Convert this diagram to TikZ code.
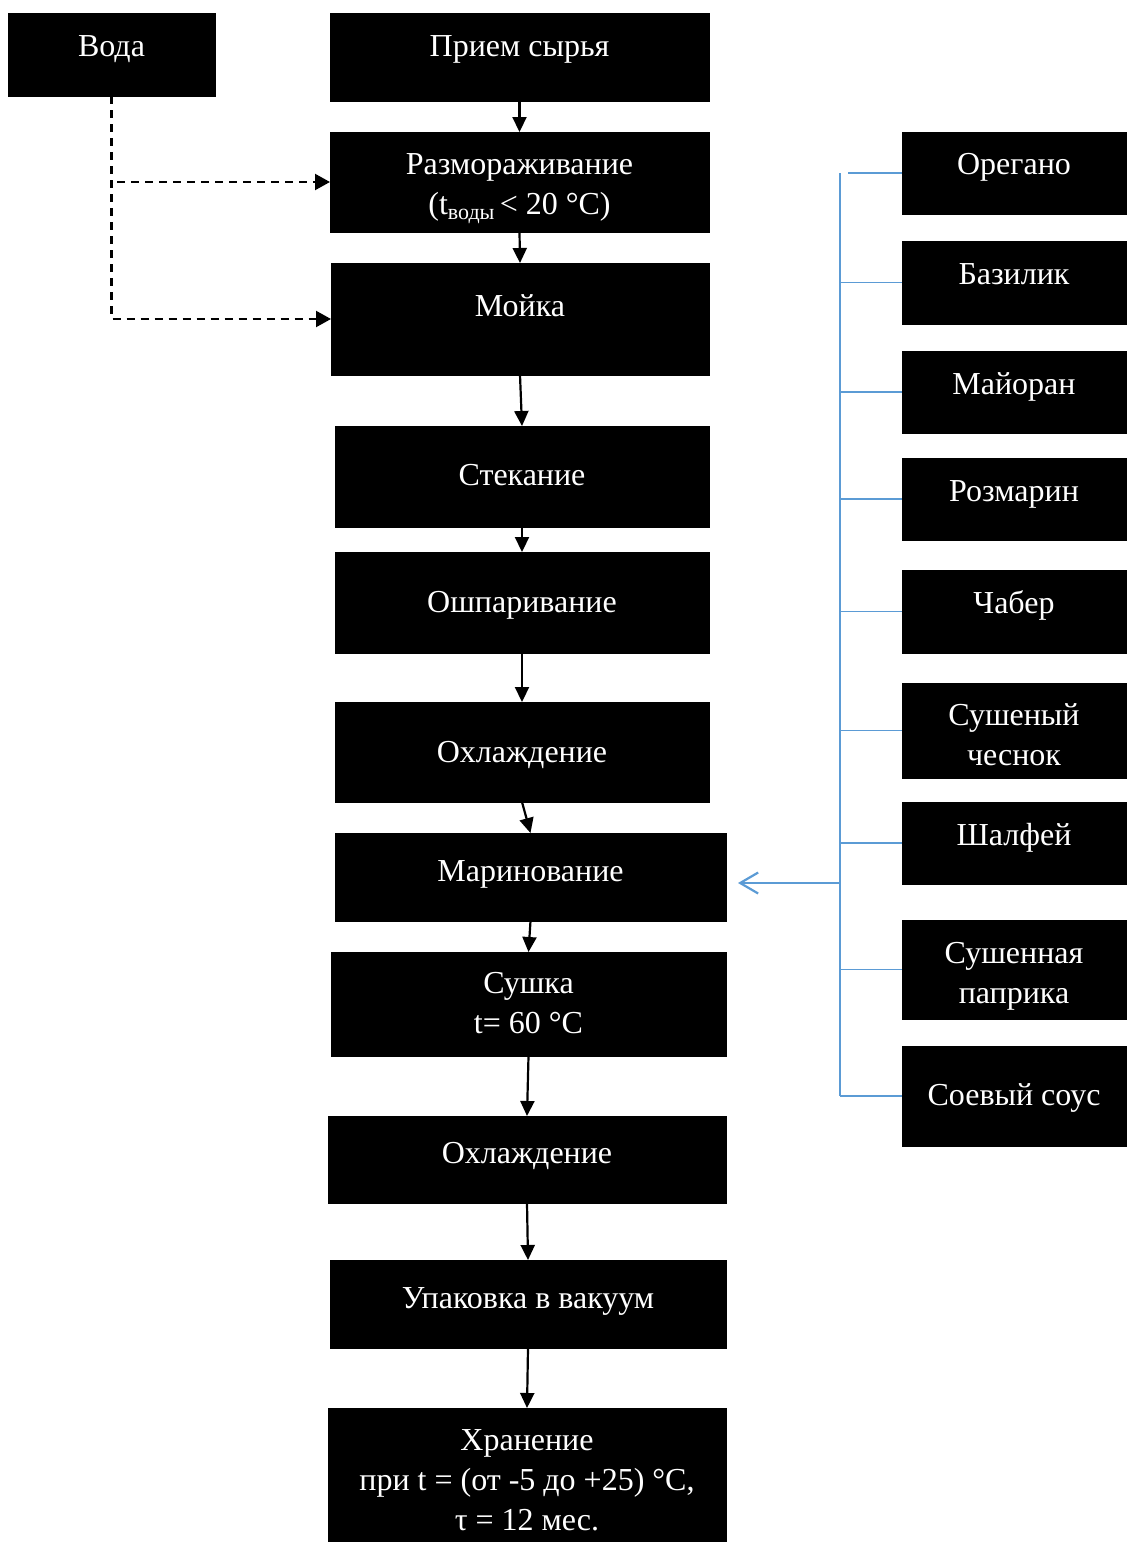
\documentclass[tikz,border=0pt]{standalone}
\usepackage{fontspec}
\setmainfont{Liberation Serif}
\usetikzlibrary{arrows.meta,calc}
\definecolor{busblue}{HTML}{5B9BD5}
% #6 = y of the last text line
\newcommand\bx[7]{%
  \node[box,minimum width={(#4-#2)*0.5pt},minimum height={(#5-#3)*0.5pt}] (#1) at ({(#2+#4)/2},{(#3+#5)/2}) {};
  \node[txt,anchor=base] (#1t) at ({(#2+#4)/2},{#6+11}) {#7};
}
\begin{document}
\begin{tikzpicture}[x=0.5pt,y=-0.5pt,
  box/.style={draw=black,fill=black,inner sep=0pt,outer sep=0pt},
  txt/.style={text=white,font=\fontsize{16}{19.8}\selectfont,align=center,inner sep=0pt},
  flow/.style={line width=1.1pt,-{Triangle[length=7.5pt,width=7pt]}},
  feed/.style={line width=1.1pt,dash pattern=on 4pt off 3pt},
  bus/.style={draw=busblue,line width=0.6pt},
]
\useasboundingbox (0,0) rectangle (1126,1542);
\bx{voda}{8}{13}{215}{96}{45}{Вода}
\bx{priem}{330}{13}{709}{101}{45}{Прием сырья}
\bx{razm}{330}{132}{709}{232}{203}{Размораживание\\(t\raisebox{-0.35ex}{\fontsize{11}{11}\selectfont воды}\,< 20 °C)}
\bx{moyka}{331}{263}{709}{375}{305}{Мойка}
\bx{stek}{335}{426}{709}{527}{474}{Стекание}
\bx{oshp}{335}{552}{709}{653}{601}{Ошпаривание}
\bx{ohl}{335}{702}{709}{802}{751}{Охлаждение}
\bx{marin}{335}{833}{726}{921}{870}{Маринование}
\bx{sush}{331}{952}{726}{1056}{1022}{Сушка\\t= 60 °C}
\bx{ohlb}{328}{1116}{726}{1203}{1152}{Охлаждение}
\bx{upak}{330}{1260}{726}{1348}{1297}{Упаковка в вакуум}
\bx{hran}{328}{1408}{726}{1542}{1519}{Хранение\\при t = (от -5 до +25) °C,\\τ = 12 мес.}
\bx{oreg}{902}{132}{1126}{214}{163}{Орегано}
\bx{bazil}{902}{241}{1126}{324}{273}{Базилик}
\bx{mayor}{902}{351}{1126}{433}{383}{Майоран}
\bx{rozm}{902}{458}{1126}{540}{490}{Розмарин}
\bx{chab}{902}{570}{1126}{653}{602}{Чабер}
\bx{chesn}{902}{683}{1126}{778}{754}{Сушеный\\чеснок}
\bx{shalf}{902}{802}{1126}{884}{834}{Шалфей}
\bx{papr}{902}{920}{1126}{1019}{992}{Сушенная\\паприка}
\bx{soev}{902}{1046}{1126}{1146}{1094}{Соевый соус}
% main flow
\draw[flow] (priem.south) -- (razm.north);
\draw[flow] (razm.south) -- (moyka.north);
\draw[flow] (moyka.south) -- (stek.north);
\draw[flow] (stek.south) -- (oshp.north);
\draw[flow] (oshp.south) -- (ohl.north);
\draw[flow] (ohl.south) -- (marin.north);
\draw[flow] (marin.south) -- (sush.north);
\draw[flow] (sush.south) -- (ohlb.north);
\draw[flow] (ohlb.south) -- (upak.north);
\draw[flow] (upak.south) -- (hran.north);
% water
\coordinate (vc) at (111.5,319);
\coordinate (vr) at (117,182);
\draw[feed,-{Triangle[length=7.5pt,width=8pt]}] (voda.south) -- (vc) -- (moyka.west);
\draw[feed,-{Triangle[length=7.5pt,width=8pt]}] (vr) -- (razm.west);
% bus
\coordinate (bt) at (840,173);
\coordinate (bb) at (840,1096);
\coordinate (bt2) at (848,173);
\coordinate (bm) at (840,883);
\draw[bus] (bt) -- (bb);
\draw[bus] (bt2) -- (bt2 -| oreg.west);
\foreach \n in {bazil,mayor,rozm,chab,chesn,shalf,papr,soev}
  \draw[bus] (\n.west -| bt) -- (\n.west);
\draw[bus,line width=1.1pt,-{Straight Barb[length=9pt,width=10.5pt]},shorten >=6pt] (bm) -- (bm -| marin.east);
\end{tikzpicture}
\end{document}
